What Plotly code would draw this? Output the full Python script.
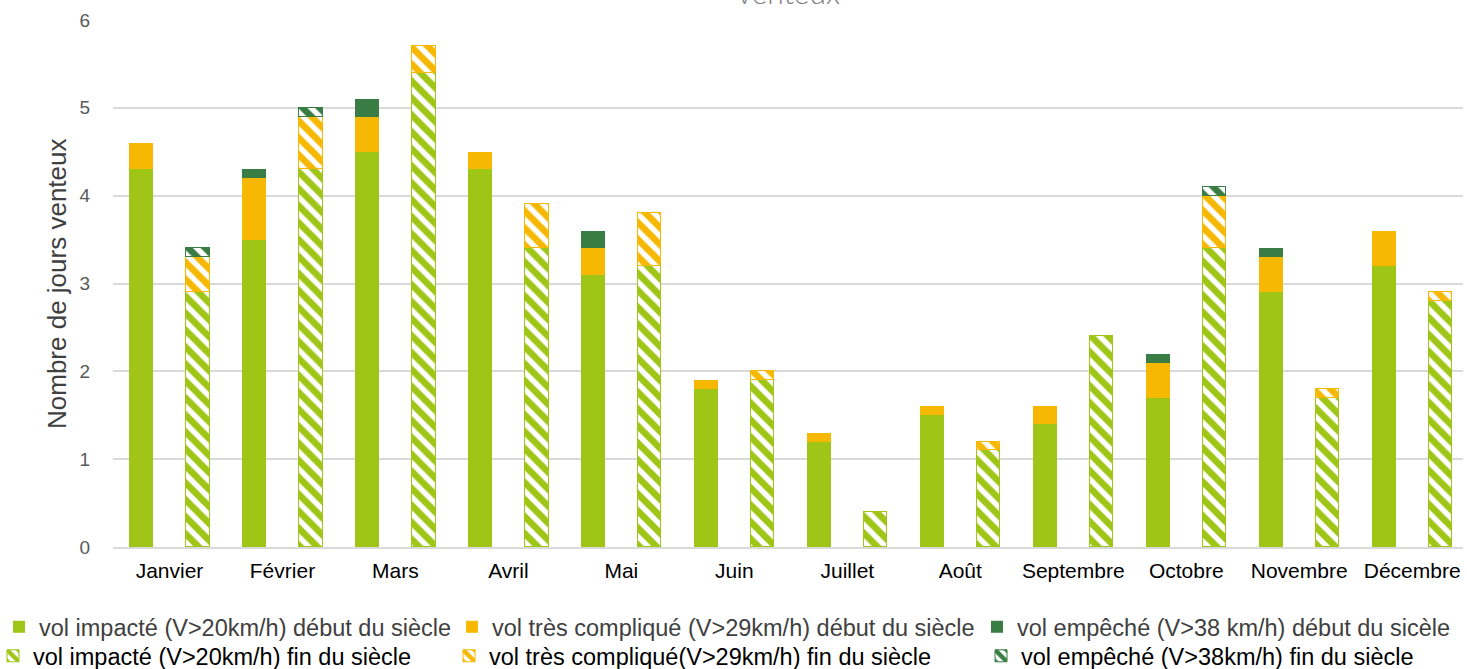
import plotly.graph_objects as go

# Monthly counts of windy days: early century (solid) vs end of century (hatched)
mois = ["Janvier", "Février", "Mars", "Avril", "Mai", "Juin", "Juillet",
        "Août", "Septembre", "Octobre", "Novembre", "Décembre"]

impacte_debut = [4.3, 3.5, 4.5, 4.3, 3.1, 1.8, 1.2, 1.5, 1.4, 1.7, 2.9, 3.2]
complique_debut = [0.3, 0.7, 0.4, 0.2, 0.3, 0.1, 0.1, 0.1, 0.2, 0.4, 0.4, 0.4]
empeche_debut = [0.0, 0.1, 0.2, 0.0, 0.2, 0.0, 0.0, 0.0, 0.0, 0.1, 0.1, 0.0]

impacte_fin = [2.9, 4.3, 5.4, 3.4, 3.2, 1.9, 0.4, 1.1, 2.4, 3.4, 1.7, 2.8]
complique_fin = [0.4, 0.6, 0.3, 0.5, 0.6, 0.1, 0.0, 0.1, 0.0, 0.6, 0.1, 0.1]
empeche_fin = [0.1, 0.1, 0.0, 0.0, 0.0, 0.0, 0.0, 0.0, 0.0, 0.1, 0.0, 0.0]

VERT = "#9FC516"
ORANGE = "#F6B802"
VERT_FONCE = "#3A7D44"

W, H = 1467, 669
ML, MR, MT, MB = 113, 4, 20, 122
PW = W - ML - MR
PH = H - MT - MB

x_debut = [2 * i for i in range(len(mois))]
x_fin = [2 * i + 1 for i in range(len(mois))]


def nz(vals):
    return [v if v > 0 else None for v in vals]


def px_x(p):
    return (p - ML) / PW


series = [
    # (name, x, values, colour, hatched, legend id, text start px, centre y px, text colour)
    ("vol impacté (V>20km/h) début du siècle", x_debut, impacte_debut, VERT, False, "legend", 40, 627, "#404040"),
    ("vol très compliqué (V>29km/h) début du siècle", x_debut, complique_debut, ORANGE, False, "legend2", 493, 627, "#404040"),
    ("vol empêché (V>38 km/h) début du sicèle", x_debut, empeche_debut, VERT_FONCE, False, "legend3", 1018, 627, "#404040"),
    ("vol impacté (V>20km/h) fin du siècle", x_fin, impacte_fin, VERT, True, "legend4", 34, 656, "#000000"),
    ("vol très compliqué(V>29km/h) fin du siècle", x_fin, complique_fin, ORANGE, True, "legend5", 490, 656, "#000000"),
    ("vol empêché (V>38km/h) fin du siècle", x_fin, empeche_fin, VERT_FONCE, True, "legend6", 1022, 656, "#000000"),
]

fig = go.Figure()
legends = {}
for name, xs, vals, col, hatched, lg, tx, ly, tcol in series:
    if hatched:
        marker = dict(color="white",
                      pattern=dict(shape="\\", fgcolor=col, bgcolor="white",
                                   size=12, solidity=0.55, fillmode="replace"),
                      line=dict(color=col, width=1))
    else:
        marker = dict(color=col, line=dict(color=col, width=0))
    fig.add_trace(go.Bar(
        x=xs, y=nz(vals), name=name, marker=marker, width=0.42,
        legend=lg, showlegend=True,
    ))
    legends[lg] = dict(
        x=px_x(tx - 41), xref="paper", xanchor="left",
        y=(H - ly) / H, yref="container", yanchor="middle",
        bgcolor="rgba(0,0,0,0)", borderwidth=0,
        font=dict(family="Liberation Sans, Arial, sans-serif", size=23.5, color=tcol),
        itemclick=False, itemdoubleclick=False,
    )

fig.update_layout(**legends)

fig.update_layout(
    width=W, height=H,
    barmode="stack",
    bargap=0,
    plot_bgcolor="white", paper_bgcolor="white",
    margin=dict(l=ML, r=MR, t=MT, b=MB, autoexpand=False),
    font=dict(family="Liberation Sans, Arial, sans-serif"),
    xaxis=dict(
        range=[-0.5, 23.4],
        tickmode="array",
        tickvals=[2 * i + 0.5 for i in range(len(mois))],
        ticktext=mois,
        tickfont=dict(size=21, color="#000000"),
        showgrid=False, zeroline=False,
        showline=True, linecolor="#d9d9d9", linewidth=1.5,
        ticks="", ticklabelstandoff=4, fixedrange=True,
    ),
    yaxis=dict(
        range=[0, 6],
        dtick=1,
        tickfont=dict(size=19, color="#595959"),
        showgrid=True, gridcolor="#d9d9d9", gridwidth=1.5,
        zeroline=False, showline=False,
        ticks="", ticklabelstandoff=22,
        fixedrange=True,
    ),
    annotations=[
        dict(
            text="venteux", xref="paper", yref="paper",
            x=px_x(788), y=1.016,
            xanchor="center", yanchor="bottom", showarrow=False,
            font=dict(family="Lato, Open Sans, sans-serif", size=30,
                      color="#808080", weight=300),
        ),
        dict(
            text="Nombre de jours venteux", xref="paper", yref="paper",
            x=px_x(57), y=(H - MB - 284) / PH,
            xanchor="center", yanchor="middle", showarrow=False,
            textangle=-90,
            font=dict(family="Liberation Sans, Arial, sans-serif", size=26,
                      color="#404040"),
        ),
    ],
)

fig.write_html("out.html")
